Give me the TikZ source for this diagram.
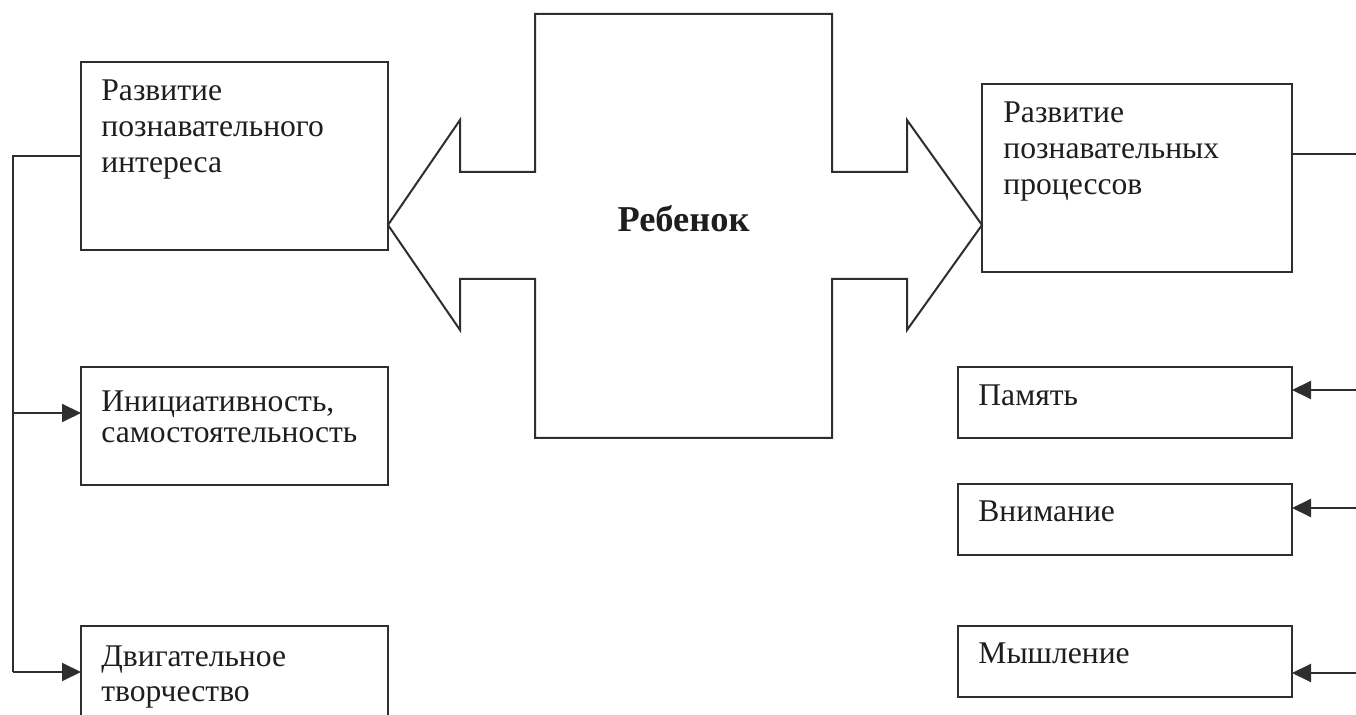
\documentclass[tikz,border=0pt]{standalone}
\usepackage{fontspec}
\setmainfont{Liberation Serif}
\usetikzlibrary{arrows.meta}
\definecolor{ink}{HTML}{2E2E2E}
\definecolor{txt}{HTML}{1E1E1E}
\newcommand{\bxtext}[2]{\parbox[t]{300pt}{\fontsize{15.8}{#1}\selectfont\raggedright #2}}
\begin{document}
\begin{tikzpicture}[x=0.5pt,y=-0.5pt,
  box/.style={draw=ink,line width=1pt,inner sep=0pt,outer sep=0pt,rectangle},
  lbl/.style={anchor=base west,inner sep=0pt,text=txt,font=\fontsize{15.8}{18}\selectfont},
  conn/.style={draw=ink,line width=1pt},
  arr/.style={conn,-{Triangle[length=9.5pt,width=9pt]}}]
\useasboundingbox (0,0) rectangle (1356,715);
\clip (0,0) rectangle (1356,715);
\fill[white] (0,0) rectangle (1356,715);

% boxes
\node[box,minimum width=153.5pt,minimum height=94pt] (L1) at (234.5,156) {};
\node[box,minimum width=153.5pt,minimum height=59pt] (L2) at (234.5,426) {};
\node[box,minimum width=153.5pt,minimum height=46pt] (L3) at (234.5,672) {};
\node[box,minimum width=155pt,minimum height=94pt] (R1) at (1137,178) {};
\node[box,minimum width=167pt,minimum height=35.5pt] (R2) at (1125,402.5) {};
\node[box,minimum width=167pt,minimum height=35.5pt] (R3) at (1125,519.5) {};
\node[box,minimum width=167pt,minimum height=35.5pt] (R4) at (1125,661.5) {};

% texts
\node[lbl] (tL1) at (101,101) {\bxtext{18}{Развитие\\познавательного\\интереса}};
\node[lbl] (tR1) at (1003,123) {\bxtext{18}{Развитие\\познавательных\\процессов}};
\node[lbl] (tL2) at (101,412) {\bxtext{15.5}{Инициативность,\\самостоятельность}};
\node[lbl] (tL3) at (101,667) {\bxtext{17.5}{Двигательное\\творчество}};
\node[lbl] (tR2) at (978,406) {Память};
\node[lbl] (tR3) at (978,522) {Внимание};
\node[lbl] (tR4) at (978,664) {Мышление};

% central double arrow shape
\draw[ink,line width=1pt,line join=miter]
  (535,14) -- (832,14) -- (832,172) -- (907,172) -- (907,120) -- (R1.west |- 0,225)
  -- (907,330) -- (907,279) -- (832,279) -- (832,438) -- (535,438) -- (535,279)
  -- (460,279) -- (460,330) -- (L1.east |- 0,225) -- (460,120) -- (460,172) -- (535,172) -- cycle;
\node[inner sep=0pt,text=txt,font=\fontsize{18.2}{20}\selectfont\bfseries] (child) at (683.5,219) {Ребенок};

% left connectors
\coordinate (lt) at (13,156);
\coordinate (lm) at (13,413);
\coordinate (lb) at (13,672);
\draw[conn] (L1.west) -- (lt) -- (lb);
\draw[arr] (lm) -- (lm -| L2.west);
\draw[arr] (lb) -- (L3.west);

% right connectors
\coordinate (rt) at (1366,154);
\coordinate (r2) at (1366,390);
\coordinate (r3) at (1366,508);
\coordinate (r4) at (1366,673);
\draw[conn] (rt -| R1.east) -- (rt) -- (r4);
\draw[arr] (r2) -- (r2 -| R2.east);
\draw[arr] (r3) -- (r3 -| R3.east);
\draw[arr] (r4) -- (r4 -| R4.east);
\end{tikzpicture}
\end{document}
